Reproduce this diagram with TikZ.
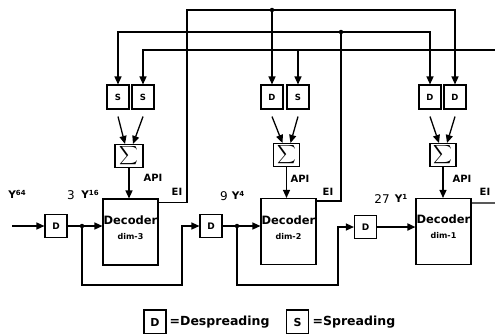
\documentclass[tikz,border=0pt]{standalone}
\usepackage{fontspec}
\usepackage{graphicx}
\setmainfont{DejaVu Sans}
\usetikzlibrary{arrows.meta}
\begin{document}
\begin{tikzpicture}[x=1pt,y=-1pt,line width=1.3pt,
  arr/.style={-{Triangle[length=8pt,width=7pt]}},
  sbox/.style={draw,line width=1.1pt,minimum width=22pt,minimum height=24pt,inner sep=0pt,font=\bfseries\fontsize{8.5}{8.5}\selectfont},
  dbox/.style={draw,line width=1.1pt,minimum width=22pt,minimum height=23pt,inner sep=0pt,font=\bfseries\fontsize{9}{9}\selectfont},
  sigbox/.style={draw,line width=1.1pt,minimum width=26pt,minimum height=23pt,inner sep=0pt},
  decbox/.style={draw,line width=1.1pt,minimum width=55pt,minimum height=66pt,inner sep=0pt},
  dectext/.style={inner sep=0pt,font=\bfseries\fontsize{11.5}{11.5}\selectfont},
  dimtext/.style={inner sep=0pt,font=\bfseries\fontsize{8}{8}\selectfont},
  lab/.style={inner sep=0pt,font=\bfseries\fontsize{10}{10}\selectfont},
  ylab/.style={inner sep=0pt,font=\bfseries\fontsize{10.5}{10.5}\selectfont},
  numlab/.style={inner sep=0pt,font=\fontsize{12}{12}\selectfont},
  legbox/.style={draw,line width=1.1pt,minimum width=22pt,minimum height=24pt,inner sep=0pt,font=\bfseries\fontsize{11}{11}\selectfont},
  legtext/.style={inner sep=1pt,anchor=west,font=\bfseries\fontsize{12.5}{12.5}\selectfont},
  dot/.style={fill,circle,inner sep=0pt,minimum size=4.5pt}
]
\useasboundingbox (0,0) rectangle (495,333);
\newcommand{\mysig}{\scalebox{1.3}{$\displaystyle\sum$}}

% top spreading / despreading boxes
\node[sbox] (s1a) at (118,97) {S};
\node[sbox] (s1b) at (143,97) {S};
\node[sbox] (d2a) at (272,97) {D};
\node[sbox] (s2b) at (298,97) {S};
\node[sbox] (d3a) at (430,97) {D};
\node[sbox] (d3b) at (455,97) {D};

% sum boxes
\node[sigbox,minimum width=28pt] (sig1) at (129,156) {\mysig};
\node[sigbox] (sig2) at (286.5,155) {\mysig};
\node[sigbox] (sig3) at (443,155) {\mysig};

% decoders
\node[decbox] (dec3) at (130.5,232) {};
\node[dectext] (t3) at (130.5,220) {Decoder};
\node[dimtext] (m3) at (130.5,237) {dim-3};
\node[decbox] (dec2) at (288.5,231.5) {};
\node[dectext] (t2) at (288.5,220) {Decoder};
\node[dimtext] (m2) at (288.5,237) {dim-2};
\node[decbox] (dec1) at (443.5,231.5) {};
\node[dectext] (t1) at (443.5,219) {Decoder};
\node[dimtext] (m1) at (443.5,236) {dim-1};

% chain despreaders
\node[dbox] (din) at (56,226) {D};
\node[dbox] (dm) at (211,226) {D};
\node[dbox] (dr) at (365.5,227) {D};

% boxes to sums
\foreach \a/\s/\o in {s1a/sig1/-4,s1b/sig1/4,d2a/sig2/-4,s2b/sig2/4,d3a/sig3/-4,d3b/sig3/4}{
  \draw[arr] ([yshift=-7pt]\a.south) -- ([xshift=\o pt]\s.north);
}
% sums to decoders
\draw[arr] (sig1.south) -- (sig1.south |- dec3.north);
\draw[arr] (sig2.south) -- (sig2.south |- dec2.north);
\draw[arr] (sig3.south) -- (sig3.south |- dec1.north);

% EI of decoder dim-3 (line A)
\coordinate (ja) at (272,10);
\draw[arr] ([yshift=-4pt]dec3.north east) -| (187,10) -| (d3b.north);
\node[dot] (dja) at (ja) {};
\draw[arr] (ja) -- (d2a.north);

% EI of decoder dim-2 (line B)
\coordinate (jb) at (341,32);
\draw ([yshift=-3pt]dec2.north east) -| (jb);
\draw[arr] (jb) -| (d3a.north);
\draw[arr] (jb) -| (s1a.north);
\node[dot] (djb) at (jb) {};

% EI of decoder dim-1 (line C)
\coordinate (ce) at (495,50);
\coordinate (eo) at (495,203);
\draw ([yshift=-5pt]dec1.north east) -- (eo);
\draw[arr] (ce) -| (s1b.north);
\coordinate (jc) at (298,50);
\draw[arr] (jc) -- (s2b.north);

% main chain
\coordinate (in) at (12,226);
\coordinate (j1) at (82,226);
\coordinate (j2) at (237,226);
\draw[arr] (in) -- (din.west);
\draw (din.east) -- (j1);
\draw[arr] (j1) -- (dec3.west |- j1);
\draw[arr] (j1) -- (82,285) -| (182,226) -- (dm.west);
\node[dot] (dj1) at (j1) {};
\draw (dm.east) -- (j2);
\draw[arr] (j2) -- (dec2.west |- j2);
\draw[arr] (j2) -- (237,285) -| (338,227) -- (dr.west);
\node[dot] (dj2) at (j2) {};
\draw[arr,line width=1.7pt] (dr.east) -- (dec1.west |- dr.east);

% labels
\node[lab] (api1) at (153,178) {API};
\node[lab] (api2) at (300,179) {API};
\node[lab] (api3) at (462,179) {API};
\node[lab] (ei1) at (177,192) {EI};
\node[lab] (ei2) at (328,192) {EI};
\node[lab] (ei3) at (485,192) {EI};

\node[ylab] (y64) at (17,194) {Y\raisebox{3pt}{\fontsize{7}{7}\selectfont 64}};
\node[numlab] (n3) at (71,195) {3};
\node[ylab] (y16) at (90,194) {Y\raisebox{3pt}{\fontsize{7}{7}\selectfont 16}};
\node[numlab] (n9) at (224,196) {9};
\node[ylab] (y4) at (238,195) {Y\raisebox{3pt}{\fontsize{7}{7}\selectfont 4}};
\node[numlab] (n27) at (382,199) {27};
\node[ylab] (y1) at (401,198) {Y\raisebox{3pt}{\fontsize{7}{7}\selectfont 1}};

% legend
\node[legbox] (lgd) at (155,322) {D};
\node[legtext] (lgdt) at (168,322) {=Despreading};
\node[legbox] (lgs) at (297.5,322) {S};
\node[legtext] (lgst) at (311,322) {=Spreading};
\end{tikzpicture}
\end{document}
